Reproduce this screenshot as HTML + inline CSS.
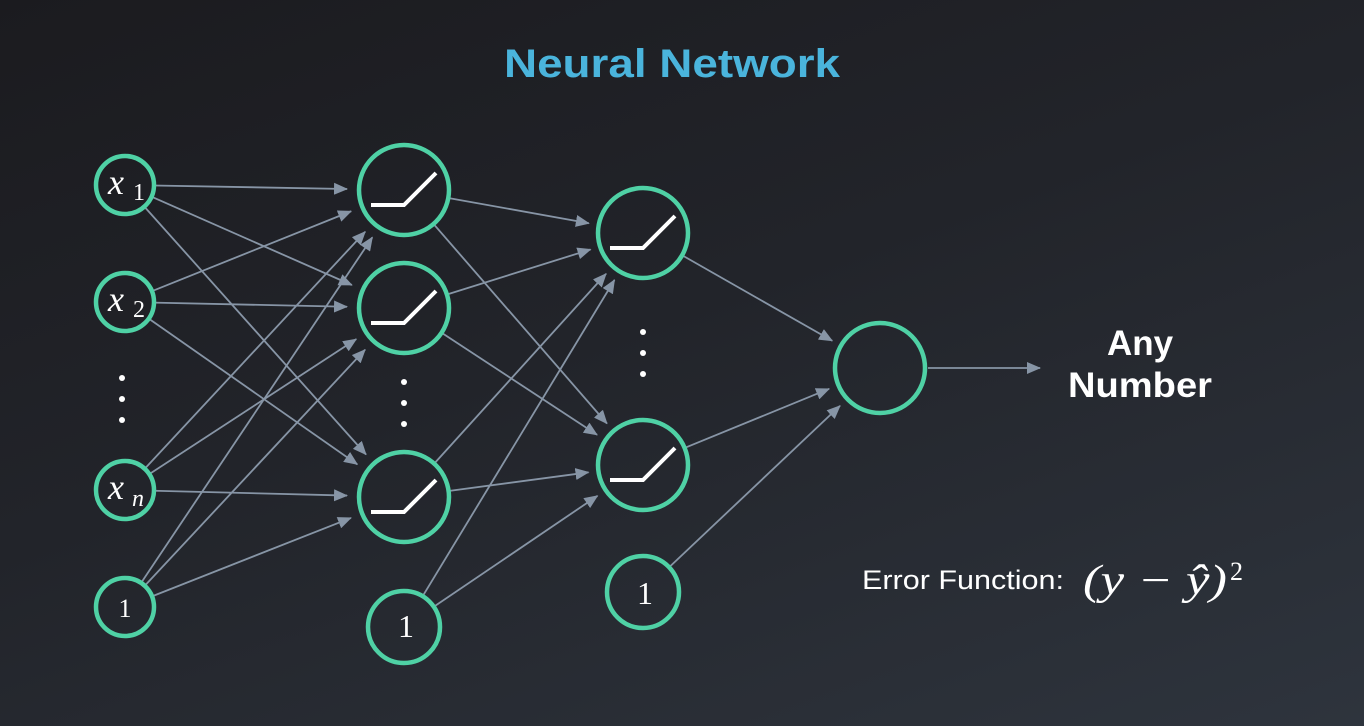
<!DOCTYPE html>
<html><head><meta charset="utf-8"><style>
html,body{margin:0;padding:0;}
body{width:1364px;height:726px;overflow:hidden;background:linear-gradient(160deg,#1b1b1f 0%,#22242a 45%,#2e343d 100%);font-family:"Liberation Sans",sans-serif;}
svg{position:absolute;left:0;top:0;}
</style></head><body>
<svg id="s" width="1364" height="726" xmlns="http://www.w3.org/2000/svg">
<defs>
<marker id="b" viewBox="0 0 14 12" markerWidth="14" markerHeight="12" refX="13" refY="6" orient="auto" markerUnits="userSpaceOnUse"><path d="M0,0 L14,6 L0,12 z" fill="#8795a6"/></marker></defs>
<g id="edges" stroke="#8795a6" stroke-width="1.8" fill="none"></g>
<g id="nodes" stroke="#4fd1a5" stroke-width="4.5" fill="none"></g>
<text x="672" y="77" text-anchor="middle" font-family="Liberation Sans" font-weight="bold" font-size="40" fill="#4ab4dc" textLength="336" lengthAdjust="spacingAndGlyphs">Neural Network</text>
<text x="1140" y="355" text-anchor="middle" font-weight="bold" font-size="35" fill="#fff">Any</text>
<text x="1140" y="397" text-anchor="middle" font-weight="bold" font-size="35" fill="#fff" textLength="144" lengthAdjust="spacingAndGlyphs">Number</text>
<text x="862" y="589" font-size="27" fill="#fff" textLength="202" lengthAdjust="spacingAndGlyphs">Error Function:</text>
<text x="1083" y="594" font-family="Liberation Serif" font-style="italic" font-size="42" fill="#fff" textLength="144" lengthAdjust="spacingAndGlyphs">(y − ŷ)</text>
<text x="1230" y="580" font-family="Liberation Serif" font-size="26" fill="#fff">2</text>
<g font-family="Liberation Serif" fill="#fff">
<text x="108" y="194" font-style="italic" font-size="36">x</text><text x="133" y="200" font-size="24">1</text>
<text x="108" y="311" font-style="italic" font-size="36">x</text><text x="133" y="317" font-size="24">2</text>
<text x="108" y="499" font-style="italic" font-size="36">x</text><text x="132" y="506" font-style="italic" font-size="24">n</text>
<text x="125" y="617" text-anchor="middle" font-size="26">1</text>
<text x="406" y="637" text-anchor="middle" font-size="32">1</text>
<text x="645" y="604" text-anchor="middle" font-size="32">1</text>
</g>
<g fill="#fff">
<circle cx="122" cy="378" r="3"/><circle cx="122" cy="399" r="3"/><circle cx="122" cy="420" r="3"/>
<circle cx="404" cy="382" r="3"/><circle cx="404" cy="403" r="3"/><circle cx="404" cy="424" r="3"/>
<circle cx="643" cy="332" r="3"/><circle cx="643" cy="353" r="3"/><circle cx="643" cy="374" r="3"/>
</g>
</svg>
<script>
var NS="http://www.w3.org/2000/svg";
var E=document.getElementById('edges'),N=document.getElementById('nodes');
var inp=[[125,185,29],[125,302,29],[125,490,29],[125,607,29]];
var h1=[[404,190,45],[404,308,45],[404,497,45]];var b1=[404,627,36];
var h2=[[643,233,45],[643,465,45]];var b2=[643,592,36];
var out=[880,368,45];
function edge(s,t,gap){var dx=t[0]-s[0],dy=t[1]-s[1],d=Math.hypot(dx,dy);var ux=dx/d,uy=dy/d;
var l=document.createElementNS(NS,'line');l.setAttribute('x1',s[0]+ux*s[2]);l.setAttribute('y1',s[1]+uy*s[2]);
l.setAttribute('x2',t[0]-ux*(t[2]+gap));l.setAttribute('y2',t[1]-uy*(t[2]+gap));l.setAttribute('marker-end','url(#b)');E.appendChild(l);}
inp.forEach(function(s){h1.forEach(function(t){edge(s,t,12);});});
h1.concat([b1]).forEach(function(s){h2.forEach(function(t){edge(s,t,10);});});
h2.concat([b2]).forEach(function(s){edge(s,out,10);});
var l=document.createElementNS(NS,'line');l.setAttribute('x1',928);l.setAttribute('y1',368);l.setAttribute('x2',1040);l.setAttribute('y2',368);l.setAttribute('marker-end','url(#b)');E.appendChild(l);
function circ(n){var c=document.createElementNS(NS,'circle');c.setAttribute('cx',n[0]);c.setAttribute('cy',n[1]);c.setAttribute('r',n[2]);N.appendChild(c);}
inp.forEach(circ);h1.forEach(circ);circ(b1);h2.forEach(circ);circ(b2);circ(out);
function relu(n){var p=document.createElementNS(NS,'path');var x=n[0],y=n[1];
p.setAttribute('d','M'+(x-33)+','+(y+15)+' L'+(x)+','+(y+15)+' L'+(x+32)+','+(y-17));
p.setAttribute('stroke','#fff');p.setAttribute('stroke-width','4');p.setAttribute('fill','none');N.appendChild(p);}
h1.forEach(relu);h2.forEach(relu);
</script>
</body></html>
